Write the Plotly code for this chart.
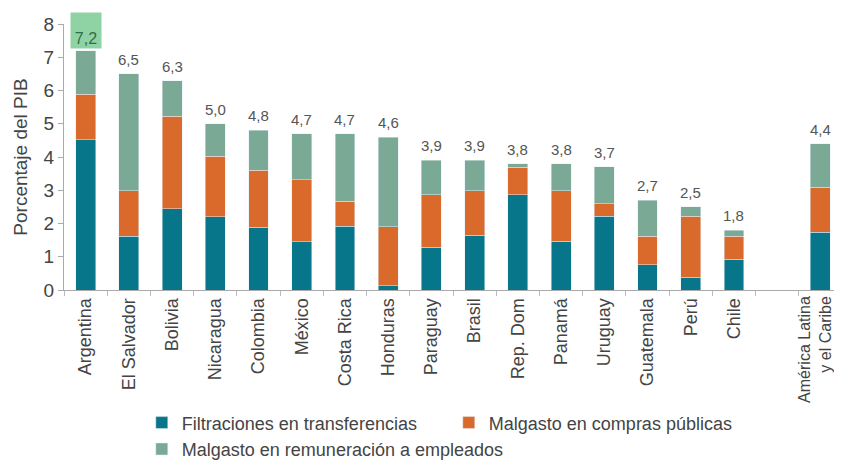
import plotly.graph_objects as go

categories = ["Argentina", "El Salvador", "Bolivia", "Nicaragua", "Colombia", "México",
              "Costa Rica", "Honduras", "Paraguay", "Brasil", "Rep. Dom", "Panamá",
              "Uruguay", "Guatemala", "Perú", "Chile", " ", "América Latina y el Caribe"]
tick_labels = ["Argentina", "El Salvador", "Bolivia", "Nicaragua", "Colombia", "México",
               "Costa Rica", "Honduras", "Paraguay", "Brasil", "Rep. Dom", "Panamá",
               "Uruguay", "Guatemala", "Perú", "Chile", "", ""]
alc_label = "América Latina<br>y el Caribe"
filtraciones = [4.52, 1.61, 2.45, 2.21, 1.89, 1.45, 1.91, 0.13, 1.28, 1.65, 2.87, 1.46,
                2.22, 0.76, 0.38, 0.93, None, 1.73]
compras = [1.37, 1.38, 2.77, 1.81, 1.71, 1.87, 0.76, 1.77, 1.59, 1.34, 0.82, 1.53,
           0.38, 0.85, 1.84, 0.68, None, 1.36]
totales = [7.2, 6.5, 6.3, 5.0, 4.8, 4.7, 4.7, 4.6, 3.9, 3.9, 3.8, 3.8, 3.7, 2.7, 2.5, 1.8, None, 4.4]
remuneracion = [None if t is None else round(t - f - c, 2)
                for t, f, c in zip(totales, filtraciones, compras)]

C_TEAL = "#08768a"
C_ORANGE = "#d96a2b"
C_GREEN = "#7aa996"

fig = go.Figure()
fig.add_bar(x=categories, y=filtraciones, name="Filtraciones en transferencias", marker_color=C_TEAL)
fig.add_bar(x=categories, y=compras, name="Malgasto en compras públicas", marker_color=C_ORANGE)
fig.add_bar(x=categories, y=remuneracion, name="Malgasto en remuneración a empleados", marker_color=C_GREEN)

for i, (cat, t) in enumerate(zip(categories, totales)):
    if t is None:
        continue
    label = f"{t:.1f}".replace(".", ",")
    if i == 0:
        fig.add_annotation(x=cat, y=t, text=label, showarrow=False, yanchor="bottom",
                           yshift=2, bgcolor="#8fd3a5", width=28, height=33,
                           valign="bottom", borderpad=1,
                           font=dict(size=16, color="#2d6e45", family="Liberation Sans"))
    else:
        fig.add_annotation(x=cat, y=t, text=label, showarrow=False, yanchor="bottom",
                           yshift=4, font=dict(size=15, color="#555555", family="Liberation Sans"))

# ALC tick label as two right-aligned rotated lines
fig.add_annotation(x=categories[-1], y=0, text=alc_label, showarrow=False,
                   textangle=-90, xanchor="center", yanchor="top", yshift=-4, xshift=-6,
                   align="right",
                   font=dict(size=16, color="#444444", family="Liberation Sans"))

# the page adds an 8px body margin, so the figure is 8px smaller than the window
fig.update_layout(
    width=834, height=453,
    barmode="stack", bargap=0.54,
    margin=dict(l=56, r=0, t=16, b=171, autoexpand=False),
    plot_bgcolor="white", paper_bgcolor="white",
    font=dict(family="Liberation Sans", color="#333333"),
    showlegend=True,
    legend=dict(orientation="h", traceorder="normal", x=0.10, xanchor="left", y=-0.43, yanchor="top",
                font=dict(size=18, color="#444444"), entrywidth=262, entrywidthmode="pixels",
                itemwidth=30, tracegroupgap=0, bgcolor="rgba(0,0,0,0)"),
    xaxis=dict(type="category", tickangle=-90, tickfont=dict(size=18, color="#444444"),
               tickmode="array", tickvals=categories, ticktext=tick_labels,
               showline=True, linecolor="#aaaaaa", linewidth=1,
               ticks="outside", tickson="boundaries", ticklen=5, tickcolor="#bbbbbb",
               showgrid=False),
    yaxis=dict(range=[0, 8], dtick=1, showgrid=False, zeroline=False,
               showline=True, linecolor="#aaaaaa", linewidth=1,
               ticks="outside", ticklen=5, tickcolor="#aaaaaa",
               tickfont=dict(size=19, color="#444444"),
               title=dict(text="Porcentaje del PIB", font=dict(size=19, color="#444444"), standoff=10)),
)

fig.write_html("out.html")
